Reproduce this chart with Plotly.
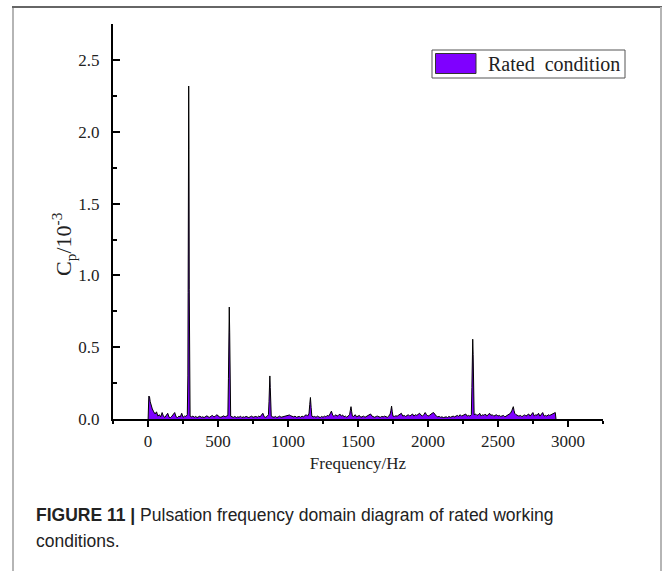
import plotly.graph_objects as go

# Pressure pulsation spectrum, rated condition (Cp in units of 1e-3)
FREQ_HZ = [
    0, 5, 10, 15, 20, 25, 30, 40, 50, 60,
    70, 80, 90, 100, 110, 120, 130, 140, 150, 160,
    170, 180, 190, 200, 210, 220, 230, 240, 250, 260,
    270, 280, 284, 286, 288, 290, 292, 294, 296, 300,
    310, 320, 330, 340, 350, 360, 370, 380, 390, 400,
    410, 420, 430, 440, 450, 460, 470, 480, 490, 500,
    510, 520, 530, 540, 550, 560, 570, 574, 577, 580,
    583, 586, 590, 600, 610, 620, 630, 640, 650, 660,
    670, 680, 690, 700, 710, 720, 730, 740, 750, 760,
    770, 780, 790, 800, 810, 820, 830, 840, 850, 860,
    864, 867, 870, 873, 876, 880, 890, 900, 910, 920,
    930, 940, 950, 960, 970, 980, 990, 1000, 1010, 1020,
    1030, 1040, 1050, 1060, 1070, 1080, 1090, 1100, 1110, 1120,
    1130, 1140, 1150, 1155, 1160, 1165, 1170, 1180, 1190, 1200,
    1210, 1220, 1230, 1240, 1250, 1260, 1270, 1280, 1290, 1300,
    1310, 1320, 1330, 1340, 1350, 1360, 1370, 1380, 1390, 1400,
    1410, 1420, 1430, 1440, 1445, 1450, 1455, 1460, 1470, 1480,
    1490, 1500, 1510, 1520, 1530, 1540, 1550, 1560, 1570, 1580,
    1590, 1600, 1610, 1620, 1630, 1640, 1650, 1660, 1670, 1680,
    1690, 1700, 1710, 1720, 1730, 1735, 1740, 1745, 1750, 1760,
    1770, 1780, 1790, 1800, 1810, 1820, 1830, 1840, 1850, 1860,
    1870, 1880, 1890, 1900, 1910, 1920, 1930, 1940, 1950, 1960,
    1970, 1980, 1990, 2000, 2010, 2020, 2030, 2040, 2050, 2060,
    2070, 2080, 2090, 2100, 2110, 2120, 2130, 2140, 2150, 2160,
    2170, 2180, 2190, 2200, 2210, 2220, 2230, 2240, 2250, 2260,
    2270, 2280, 2290, 2300, 2310, 2314, 2317, 2320, 2323, 2326,
    2330, 2340, 2350, 2360, 2370, 2380, 2390, 2400, 2410, 2420,
    2430, 2440, 2450, 2460, 2470, 2480, 2490, 2500, 2510, 2520,
    2530, 2540, 2550, 2560, 2570, 2580, 2590, 2600, 2605, 2610,
    2615, 2620, 2630, 2640, 2650, 2660, 2670, 2680, 2690, 2700,
    2710, 2720, 2730, 2740, 2750, 2760, 2770, 2780, 2790, 2800,
    2810, 2820, 2830, 2840, 2850, 2860, 2870, 2880, 2890, 2900,
    2910, 2915,
]
CP_E3 = [
    0.0, 0.16, 0.155, 0.12, 0.10, 0.085, 0.07, 0.05, 0.035, 0.05,
    0.02, 0.03, 0.015, 0.045, 0.018, 0.012, 0.03, 0.04, 0.012, 0.01,
    0.02, 0.035, 0.045, 0.015, 0.01, 0.02, 0.015, 0.04, 0.012, 0.02,
    0.018, 0.03, 0.3, 0.88, 1.75, 2.32, 1.88, 0.9, 0.25, 0.02,
    0.015, 0.02, 0.012, 0.018, 0.01, 0.015, 0.02, 0.012, 0.015, 0.01,
    0.018, 0.022, 0.015, 0.012, 0.02, 0.025, 0.015, 0.018, 0.03, 0.02,
    0.015, 0.012, 0.018, 0.022, 0.015, 0.02, 0.025, 0.28, 0.6, 0.78,
    0.6, 0.25, 0.02, 0.015, 0.012, 0.018, 0.01, 0.015, 0.012, 0.02,
    0.01, 0.015, 0.012, 0.018, 0.014, 0.01, 0.016, 0.02, 0.012, 0.015,
    0.018, 0.012, 0.02, 0.015, 0.025, 0.04, 0.015, 0.012, 0.018, 0.03,
    0.12, 0.25, 0.30, 0.22, 0.08, 0.02, 0.015, 0.012, 0.018, 0.01,
    0.015, 0.02, 0.012, 0.015, 0.018, 0.022, 0.025, 0.03, 0.028, 0.022,
    0.018, 0.015, 0.02, 0.012, 0.015, 0.018, 0.012, 0.02, 0.015, 0.025,
    0.03, 0.02, 0.04, 0.1, 0.15, 0.08, 0.02, 0.015, 0.018, 0.012,
    0.02, 0.015, 0.01, 0.018, 0.012, 0.02, 0.015, 0.025, 0.02, 0.035,
    0.055, 0.025, 0.018, 0.03, 0.02, 0.025, 0.035, 0.02, 0.028, 0.015,
    0.02, 0.012, 0.018, 0.03, 0.06, 0.086, 0.05, 0.02, 0.018, 0.03,
    0.015, 0.02, 0.025, 0.012, 0.015, 0.02, 0.012, 0.018, 0.022, 0.03,
    0.035, 0.02, 0.015, 0.012, 0.018, 0.02, 0.015, 0.012, 0.018, 0.015,
    0.02, 0.018, 0.012, 0.02, 0.035, 0.06, 0.09, 0.05, 0.02, 0.018,
    0.022, 0.02, 0.025, 0.03, 0.04, 0.02, 0.025, 0.018, 0.022, 0.03,
    0.02, 0.025, 0.035, 0.02, 0.03, 0.025, 0.035, 0.04, 0.028, 0.02,
    0.03, 0.045, 0.03, 0.02, 0.025, 0.035, 0.04, 0.045, 0.03, 0.02,
    0.015, 0.018, 0.012, 0.015, 0.01, 0.012, 0.015, 0.01, 0.018, 0.012,
    0.015, 0.02, 0.015, 0.02, 0.025, 0.018, 0.03, 0.02, 0.025, 0.03,
    0.035, 0.02, 0.025, 0.02, 0.03, 0.22, 0.45, 0.556, 0.45, 0.22,
    0.03, 0.035, 0.025, 0.03, 0.04, 0.02, 0.03, 0.025, 0.035, 0.02,
    0.03, 0.04, 0.025, 0.03, 0.02, 0.025, 0.03, 0.02, 0.025, 0.018,
    0.02, 0.025, 0.015, 0.02, 0.025, 0.03, 0.04, 0.06, 0.08, 0.086,
    0.06, 0.04, 0.03, 0.025, 0.02, 0.025, 0.018, 0.02, 0.03, 0.02,
    0.025, 0.035, 0.02, 0.03, 0.045, 0.02, 0.03, 0.025, 0.04, 0.02,
    0.035, 0.045, 0.02, 0.025, 0.02, 0.03, 0.025, 0.03, 0.035, 0.04,
    0.045, 0.0,
]

X_TICKS = [0, 500, 1000, 1500, 2000, 2500, 3000]
Y_TICKS = [0.0, 0.5, 1.0, 1.5, 2.0, 2.5]
Y_TICK_LABELS = ["0.0", "0.5", "1.0", "1.5", "2.0", "2.5"]

SERIES_NAME = "Rated  condition"
X_TITLE = "Frequency/Hz"
Y_TITLE = "C<sub>p</sub>/10<sup>-3</sup>"
CAPTION_LEAD = "FIGURE 11 |"
CAPTION_LINE1 = "Pulsation frequency domain diagram of rated working"
CAPTION_LINE2 = "conditions."

W, H = 663, 571
M_L, M_R, M_T, M_B = 113, 60, 24, 152
PW, PH = W - M_L - M_R, H - M_T - M_B

FILL = "#7F00FF"
SERIF = "Liberation Serif, Times New Roman, serif"
SANS = "Liberation Sans, Arial, sans-serif"


def px_x(p):
    return (p - M_L) / PW


def px_y(p):
    return (H - M_B - p) / PH


fig = go.Figure()
fig.add_trace(go.Scatter(
    x=FREQ_HZ, y=CP_E3, mode="lines", fill="tozeroy",
    fillcolor=FILL, line=dict(color="black", width=1),
    name=SERIES_NAME, showlegend=False, hoverinfo="x+y",
))

axis_font = dict(family=SERIF, size=17, color="#222")

fig.update_layout(
    width=W, height=H,
    margin=dict(l=M_L, r=M_R, t=M_T, b=M_B),
    paper_bgcolor="white", plot_bgcolor="white",
    showlegend=False,
    xaxis=dict(
        range=[-251, 3251], tickvals=X_TICKS, ticktext=[str(v) for v in X_TICKS],
        ticks="outside", ticklen=6, tickwidth=2, tickcolor="black",
        showline=True, linecolor="black", linewidth=2,
        showgrid=False, zeroline=False, tickfont=axis_font,
        minor=dict(ticks="outside", ticklen=3, tickwidth=2, tickcolor="black",
                   dtick=250, tick0=0, showgrid=False),
        title=dict(text=X_TITLE, font=dict(family=SERIF, size=17, color="#222"),
                   standoff=7),
    ),
    yaxis=dict(
        range=[0, 2.752], tickvals=Y_TICKS, ticktext=Y_TICK_LABELS,
        ticks="inside", ticklen=7, tickwidth=2, tickcolor="black",
        showline=True, linecolor="black", linewidth=2,
        showgrid=False, zeroline=False, tickfont=axis_font,
        ticklabelstandoff=8,
        minor=dict(ticks="inside", ticklen=4, tickwidth=2, tickcolor="black",
                   dtick=0.25, tick0=0, showgrid=False),
    ),
)

shapes = [
    # outer frame of the figure panel
    dict(type="line", xref="paper", yref="paper", x0=px_x(13), x1=px_x(13),
         y0=px_y(7), y1=px_y(572), line=dict(color="#b5b5b5", width=2)),
    dict(type="line", xref="paper", yref="paper", x0=px_x(12), x1=px_x(662),
         y0=px_y(7), y1=px_y(7), line=dict(color="#666", width=2)),
    dict(type="line", xref="paper", yref="paper", x0=px_x(661), x1=px_x(661),
         y0=px_y(7), y1=px_y(572), line=dict(color="#b5b5b5", width=2)),
    # legend box and swatch
    dict(type="rect", xref="paper", yref="paper", x0=px_x(432), x1=px_x(625),
         y0=px_y(78), y1=px_y(50), line=dict(color="#555", width=1),
         fillcolor="white"),
    dict(type="rect", xref="paper", yref="paper", x0=px_x(435.5), x1=px_x(476),
         y0=px_y(73.5), y1=px_y(53.5), line=dict(color="#333", width=1),
         fillcolor=FILL),
]
fig.update_layout(shapes=shapes)

annotations = [
    # y-axis title, rotated
    dict(text=Y_TITLE, xref="paper", yref="paper", x=px_x(63), y=px_y(244),
         xanchor="center", yanchor="middle", textangle=-90, showarrow=False,
         font=dict(family=SERIF, size=22, color="#222")),
    dict(text=SERIES_NAME, xref="paper", yref="paper", x=px_x(486), y=px_y(64),
         xanchor="left", yanchor="middle", showarrow=False,
         font=dict(family=SERIF, size=20, color="#222")),
    dict(text="<b>" + CAPTION_LEAD + "</b> " + CAPTION_LINE1,
         xref="paper", yref="paper", x=px_x(34), y=px_y(515),
         xanchor="left", yanchor="middle", showarrow=False,
         font=dict(family=SANS, size=17.5, color="#222")),
    dict(text=CAPTION_LINE2, xref="paper", yref="paper", x=px_x(34), y=px_y(541),
         xanchor="left", yanchor="middle", showarrow=False,
         font=dict(family=SANS, size=17.5, color="#222")),
]
fig.update_layout(annotations=annotations)

fig.write_html("out.html")
